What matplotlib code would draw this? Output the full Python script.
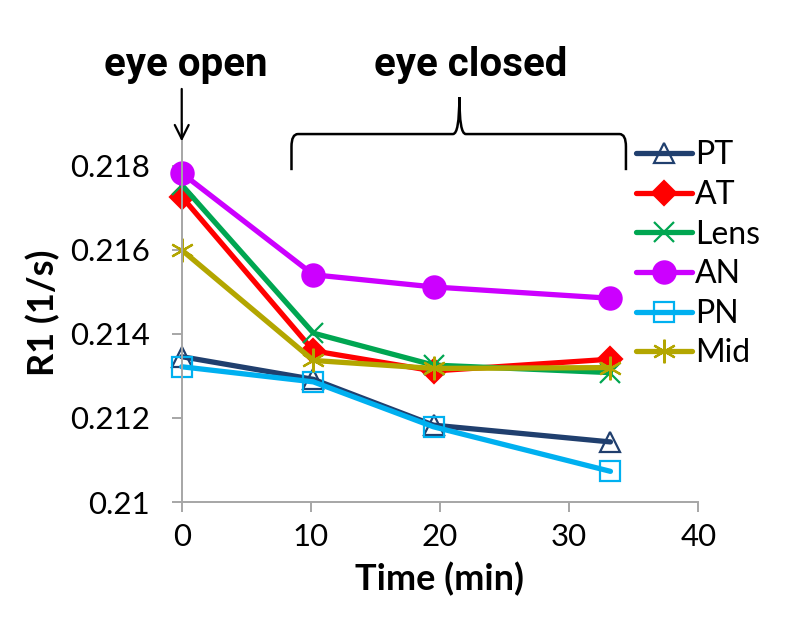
import matplotlib.pyplot as plt
from matplotlib.path import Path
from matplotlib.patches import PathPatch

# data
time_min = [0, 10.2, 19.5, 33.2]
pt = [0.21346, 0.21292, 0.21183, 0.21143]
at = [0.21727, 0.21360, 0.21312, 0.21340]
lens = [0.21755, 0.21402, 0.21326, 0.21308]
an = [0.21783, 0.21541, 0.21512, 0.21485]
pn = [0.21322, 0.21286, 0.21179, 0.21073]
mid = [0.21600, 0.21337, 0.21318, 0.21320]

series = [
    ('PT', pt, '#203F6E', '^', 'none'),
    ('AT', at, '#FF0000', 'D', '#FF0000'),
    ('Lens', lens, '#00A651', 'x', '#00A651'),
    ('AN', an, '#CC00FF', 'o', '#CC00FF'),
    ('PN', pn, '#00B0F0', 's', 'none'),
    ('Mid', mid, '#B3A600', (6, 2, 0), '#B3A600'),
]
msizes = {'PT': 15, 'AT': 12, 'Lens': 15, 'AN': 16, 'PN': 14, 'Mid': 17}

plt.rcParams['font.family'] = ['Lato', 'DejaVu Sans']

fig = plt.figure(figsize=(7.85, 6.29), dpi=100)
ax = fig.add_axes([0.2315, 0.2019, 0.658, 0.601])

for name, vals, col, mk, fc in series:
    ax.plot(time_min, vals, color=col, lw=3.8, marker=mk, ms=msizes[name],
            markerfacecolor=fc, markeredgecolor=col, markeredgewidth=1.6,
            label=name, clip_on=False, solid_capstyle='round')

ax.set_xlim(0, 40)
ax.set_ylim(0.21, 0.219)
ax.set_xticks([0, 10, 20, 30, 40])
ax.set_yticks([0.21, 0.212, 0.214, 0.216, 0.218])
ax.set_yticklabels(['0.21', '0.212', '0.214', '0.216', '0.218'])
for s in ['top', 'right']:
    ax.spines[s].set_visible(False)
for s in ['left', 'bottom']:
    ax.spines[s].set_color('#A6A6A6')
    ax.spines[s].set_linewidth(1.4)
ax.tick_params(direction='out', length=7, width=1.4, color='#A6A6A6',
               labelsize=22.5)
ax.tick_params(axis='y', pad=16)
ax.tick_params(axis='x', pad=8)
ax.set_ylabel('R1 (1/s)', fontsize=26, fontweight='bold', labelpad=7)
ax.set_xlabel('Time (min)', fontsize=26, fontweight='bold', labelpad=8)

ax.legend(loc='upper left', bbox_to_anchor=(0.794, 0.797), bbox_transform=fig.transFigure,
          frameon=False, fontsize=23, handlelength=1.75, handletextpad=0.1,
          labelspacing=0.3, borderaxespad=0)

# annotations above the plot
narrow = ['Roboto', 'DejaVu Sans']
ax.text(0.3, 0.2204, 'eye open', ha='center', va='center', fontsize=29,
        fontweight='bold', family=narrow)
ax.text(22.4, 0.2204, 'eye closed', ha='center', va='center', fontsize=29,
        fontweight='bold', family=narrow)
ax.annotate('', xy=(0, 0.21852), xytext=(0, 0.21990),
            arrowprops=dict(arrowstyle='->', lw=1.6, color='black',
                            mutation_scale=25),
            annotation_clip=False)

# curly brace
x0, x1, xm = 8.5, 34.4, 21.5
yb, yh, yt = 0.21790, 0.21876, 0.21964
r = 0.5
verts = [(x0, yb), (x0, yh - 0.0003), (x0, yh), (x0 + r, yh),
         (xm - r, yh), (xm, yh), (xm, yt),
         (xm, yh), (xm + r, yh),
         (x1 - r, yh), (x1, yh), (x1, yh - 0.0003), (x1, yb)]
codes = [Path.MOVETO, Path.LINETO, Path.CURVE3, Path.CURVE3,
         Path.LINETO, Path.CURVE3, Path.CURVE3,
         Path.CURVE3, Path.CURVE3,
         Path.LINETO, Path.CURVE3, Path.CURVE3, Path.LINETO]
ax.add_patch(PathPatch(Path(verts, codes), fill=False, lw=1.8, color='black',
                       clip_on=False))

fig.savefig('out.png', dpi=100)
